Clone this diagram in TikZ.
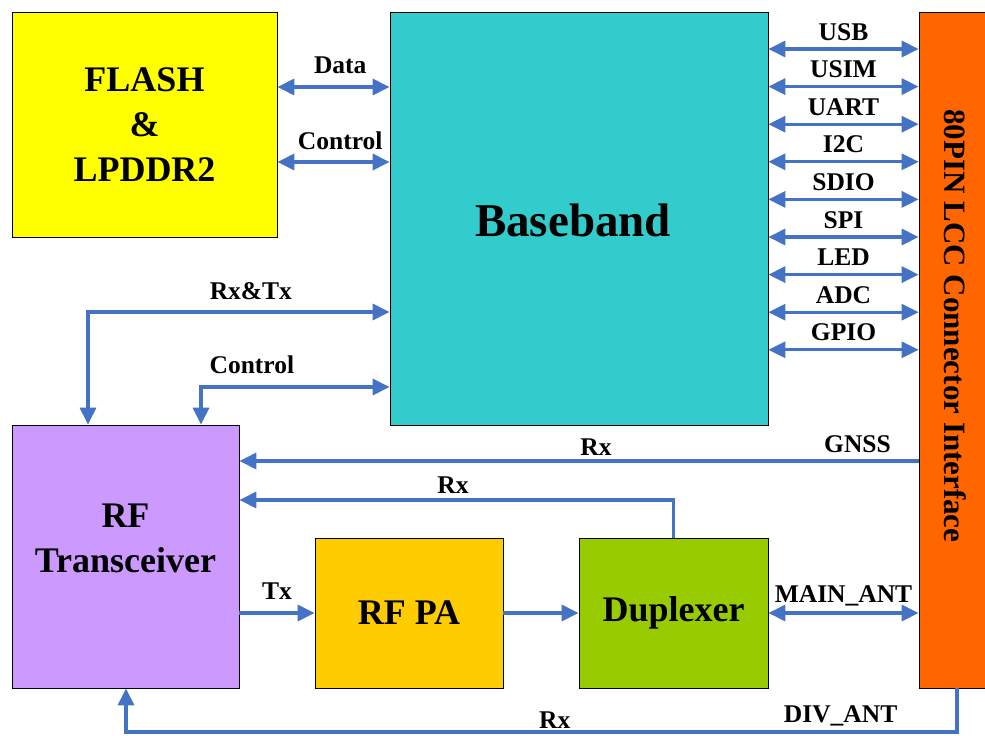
\documentclass[tikz,border=0pt]{standalone}
\usepackage{fontspec}
\setmainfont{Liberation Serif}
\usetikzlibrary{arrows.meta, calc}

\definecolor{flashyellow}{HTML}{FFFF00}
\definecolor{bbcyan}{HTML}{33CCCC}
\definecolor{connorange}{HTML}{FF6600}
\definecolor{trxpurple}{HTML}{CC99FF}
\definecolor{paorange}{HTML}{FFCC00}
\definecolor{dupgreen}{HTML}{99CC00}
\definecolor{sigblue}{HTML}{4472C4}

\tikzset{
  box/.style={draw=black, line width=0.8pt, inner sep=0pt},
  bigtext/.style={font=\bfseries\fontsize{36}{45}\selectfont, align=center},
  sig/.style={draw=sigblue, line width=3.3pt},
  biarrow/.style={sig, {Triangle[length=17pt,width=16pt]}-{Triangle[length=17pt,width=16pt]}},
  toarrow/.style={sig, -{Triangle[length=17pt,width=16pt]}},
  lbl/.style={font=\bfseries\fontsize{25.5}{30}\selectfont, anchor=base, inner sep=0pt, yshift=#1},
  lbl/.default=10pt
}

\begin{document}
\begin{tikzpicture}[x=1pt, y=-1pt]
  \useasboundingbox (0,0) rectangle (985,736);

  % blocks
  \node[box, fill=flashyellow, minimum width=265pt, minimum height=225pt, bigtext] (flash) at (144.5,124.5) {FLASH\\\&\\LPDDR2};
  \node[box, fill=bbcyan, minimum width=378pt, minimum height=413pt,
        label={[font=\bfseries\fontsize{47}{50}\selectfont, xshift=-6pt, yshift=-2pt]center:Baseband}] (bb) at (579,218.5) {};
  \node[box, fill=connorange, minimum width=73pt, minimum height=676pt] (conn) at (955.5,350) {};
  \node[font=\bfseries\fontsize{31}{35}\selectfont, rotate=-90] (conntext) at (955,326) {80PIN LCC Connector Interface};
  \node[box, fill=trxpurple, minimum width=227pt, minimum height=263pt,
        label={[bigtext, yshift=18pt]center:{RF\\Transceiver}}] (trx) at (125.5,556.5) {};
  \node[box, fill=paorange, minimum width=188pt, minimum height=150pt, bigtext] (rfpa) at (409,613) {RF PA};
  \node[box, fill=dupgreen, minimum width=189pt, minimum height=150pt, bigtext] (dup) at (673.5,613) {Duplexer};

  % memory bus
  \draw[biarrow] (flash.east |- 0,87) -- (bb.west |- 0,87) node[lbl=14pt, pos=.56] {Data};
  \draw[biarrow] (flash.east |- 0,162) -- (bb.west |- 0,162) node[lbl=13pt, pos=.56] {Control};

  % interfaces to the connector
  \foreach \name [count=\i from 0] in {USB,USIM,UART,I2C,SDIO,SPI,LED,ADC,GPIO} {
    \pgfmathsetmacro\yy{49+37.6*\i}
    \draw[biarrow] (bb.east |- 0,\yy) -- (conn.west |- 0,\yy) node[lbl=9pt, midway] {\name};
  }

  % baseband <-> transceiver
  \draw[biarrow] (trx.north -| 88,0) |- (bb.west |- 0,312) node[lbl=13pt, pos=.77] {Rx\&Tx};
  \draw[biarrow] (trx.north -| 201,0) |- (bb.west |- 0,387) node[lbl=14pt, pos=.635] {Control};

  % rf path
  \draw[toarrow] (conn.west |- 0,461) -- (trx.east |- 0,461)
    node[lbl=9pt, pos=.09] {GNSS} node[lbl=6pt, pos=.475] {Rx};
  \draw[toarrow] (dup.north) |- (trx.east |- 0,500) node[lbl=7pt, pos=.754] {Rx};
  \draw[toarrow] (trx.east |- 0,613) -- (rfpa.west) node[lbl=14pt, midway] {Tx};
  \draw[toarrow] (rfpa.east) -- (dup.west);
  \draw[biarrow] (dup.east) -- (conn.west |- dup.east) node[lbl=11pt, midway] {MAIN\_ANT};
  \draw[toarrow] (conn.south -| 957,0) -- ++(0,43.5)
    -| node[lbl=9.5pt, pos=.07] {DIV\_ANT} node[lbl=3.5pt, pos=.242] {Rx} (trx.south -| 126,0);
\end{tikzpicture}
\end{document}
